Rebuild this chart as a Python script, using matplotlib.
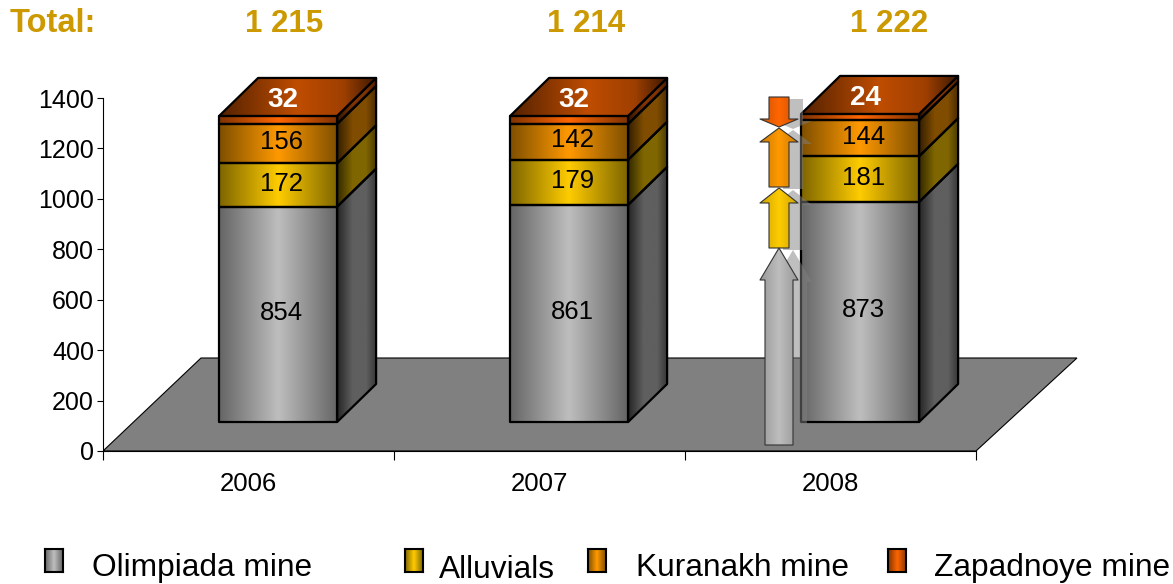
import numpy as np
import matplotlib
matplotlib.use('Agg')
import matplotlib.pyplot as plt
from matplotlib.patches import Polygon

plt.rcParams['font.family'] = ['Liberation Sans', 'DejaVu Sans']

years = ['2006', '2007', '2008']
olimpiada = [854, 861, 873]
alluvials = [172, 179, 181]
kuranakh = [156, 142, 144]
zapadnoye = [32, 32, 24]
totals = ['1 215', '1 214', '1 222']
y_ticks = [0, 200, 400, 600, 800, 1000, 1200, 1400]
series_names = ['Olimpiada mine', 'Alluvials', 'Kuranakh mine', 'Zapadnoye mine']

W, H = 1173, 584
GOLD = '#CC9900'
# edge and centre colours of each series
COLORS = [('#666666', '#BEBEBE'), ('#7F6600', '#FFCC00'),
          ('#805000', '#FF9900'), ('#803300', '#FF6600')]

fig = plt.figure(figsize=(W / 100, H / 100), dpi=100)
# axes start at the chart floor, the 3d box sticks out above 1400 and right of 2008
ax = fig.add_axes([103 / W, 1 - 451 / H, (1082 - 103) / W, (451 - 70) / H])
ax.patch.set_visible(False)

PX_X = 291.0       # pixels per category
PX_Y = 0.2521      # pixels per unit


def to_rgb(c):
    return np.array(matplotlib.colors.to_rgb(c))


def ramp(stops):
    # stops: (position, rgb) -> one row image with a horizontal gradient
    pos = [s[0] for s in stops]
    t = np.linspace(0, 1, 64)
    img = np.zeros((1, 64, 3))
    for k in range(3):
        img[0, :, k] = np.interp(t, pos, [s[1][k] for s in stops])
    return img


def front_ramp(edge, mid):
    return ramp([(0, to_rgb(edge)), (0.5, to_rgb(mid)), (1, to_rgb(edge))])


def side_ramp(mid):
    m = to_rgb(mid)
    return ramp([(0, m * 0.2), (0.4, m * 0.5), (0.75, m * 0.5), (1, m * 0.3)])


def top_ramp(mid):
    m = to_rgb(mid)
    return ramp([(0, m * 0.33), (0.5, m * 0.75), (0.8, m * 0.62), (1, m * 0.25)])


def grad_poly(verts, img, zorder, lw=1.6, ec='black'):
    verts = np.array(verts)
    poly = Polygon(verts, closed=True, fc='none', ec=ec, lw=lw, zorder=zorder + 0.1, clip_on=False,
                   joinstyle='round')
    ax.add_patch(poly)
    im = ax.imshow(img, extent=[verts[:, 0].min(), verts[:, 0].max(), verts[:, 1].min(), verts[:, 1].max()],
                   aspect='auto', zorder=zorder, interpolation='bilinear')
    im.set_clip_path(poly)


# floor
floor_dx = 98 / PX_X
floor_dy = 93 / PX_Y
ax.add_patch(Polygon([(0, 0), (floor_dx, floor_dy), (3.347, floor_dy), (3, 0)], closed=True,
                     fc='#808080', ec='black', lw=0.8, zorder=1))

# bars
bar_left = 0.399
bar_w = 118 / PX_X
base = 29 / PX_Y
dx = 39 / PX_X
dy = 38 / PX_Y
for i in range(3):
    x0 = i + bar_left
    x1 = x0 + bar_w
    bottom = base
    vals = [olimpiada[i], alluvials[i], kuranakh[i], zapadnoye[i]]
    for s, v in enumerate(vals):
        top = bottom + v
        edge, mid = COLORS[s]
        grad_poly([(x1, bottom), (x1 + dx, bottom + dy), (x1 + dx, top + dy), (x1, top)],
                  side_ramp(mid), 3)
        grad_poly([(x0, bottom), (x1, bottom), (x1, top), (x0, top)], front_ramp(edge, mid), 3.3)
        if s < 3:
            ax.text((x0 + x1) / 2 + 3 / PX_X, bottom + v / 2 + 6, str(v), ha='center', va='center',
                    fontsize=18.5, color='black', zorder=6)
        bottom = top
    grad_poly([(x0, top), (x1, top), (x1 + dx, top + dy), (x0 + dx, top + dy)],
              top_ramp(COLORS[3][1]), 3.6)
    ax.text((x0 + x1) / 2 + 5 / PX_X, top + dy / 2 - 14, str(vals[3]), ha='center', va='center',
            fontsize=20, fontweight='bold', color='white', zorder=6)


# decorative arrows next to the last bar, laid out in pixels
def px(x, y):
    return ((x - 103) / PX_X, (451 - y) / PX_Y)


def up_arrow(cx, tip, neck, tail, shaft, head):
    return [(cx, tip), (cx + head, neck), (cx + shaft, neck), (cx + shaft, tail),
            (cx - shaft, tail), (cx - shaft, neck), (cx - head, neck)]


arrows = [
    (up_arrow(779, 248, 280, 445, 14, 19), COLORS[0]),
    (up_arrow(779, 188, 203, 248, 10, 19), COLORS[1]),
    (up_arrow(779, 128, 142, 187, 10, 19), COLORS[2]),
    (up_arrow(779, 127, 119, 97, 10, 19), COLORS[3]),
]
for pts, (edge, mid) in arrows:
    ax.add_patch(Polygon([px(x + 14, y + 2) for x, y in pts], closed=True, fc='#808080', ec='none',
                         alpha=0.5, zorder=4, clip_on=False))
for pts, (edge, mid) in arrows:
    grad_poly([px(x, y) for x, y in pts], front_ramp(to_rgb(mid) * 0.8, mid), 5, lw=0.8, ec='#333333')

# axes
ax.set_xlim(0, (1082 - 103) / PX_X)
ax.set_ylim(0, (451 - 70) / PX_Y)
for name in ['top', 'right']:
    ax.spines[name].set_visible(False)
ax.spines['left'].set_bounds(0, 1400)
ax.spines['bottom'].set_bounds(0, 3)
ax.spines['left'].set_linewidth(0.8)
ax.spines['bottom'].set_linewidth(0.8)
ax.set_yticks(y_ticks)
ax.tick_params(axis='y', length=4.5, width=0.8, labelsize=18, pad=2)
ax.set_xticks([0, 1, 2, 3])
ax.set_xticklabels([])
ax.tick_params(axis='x', which='major', length=6.5, width=0.8)
ax.set_xticks([0.5, 1.5, 2.5], minor=True)
ax.set_xticklabels(years, minor=True, fontsize=18.5)
ax.tick_params(axis='x', which='minor', length=0, pad=15)


def ftext(x, y, s, **kw):
    fig.text(x / W, 1 - y / H, s, **kw)


# totals row
ftext(10, 24, 'Total:', fontsize=23.5, fontweight='bold', color=GOLD, ha='left', va='center')
for cx, t in zip([284, 586, 889], totals):
    ftext(cx, 24, t, fontsize=22.5, fontweight='bold', color=GOLD, ha='center', va='center')

# legend
swatch_x = [45, 405, 588, 888]
text_x = [92, 439, 636, 934]
base_y = [576, 578, 576, 576]
for k in range(4):
    sw = fig.add_axes([swatch_x[k] / W, 1 - 572 / H, 18 / W, 23 / H])
    sw.imshow(front_ramp(*COLORS[k]), aspect='auto', interpolation='bilinear')
    sw.set_xticks([])
    sw.set_yticks([])
    for sp in sw.spines.values():
        sp.set_linewidth(1.5)
    ftext(text_x[k], base_y[k], series_names[k], fontsize=22.8, ha='left', va='baseline')

fig.savefig('out.png', dpi=100)
